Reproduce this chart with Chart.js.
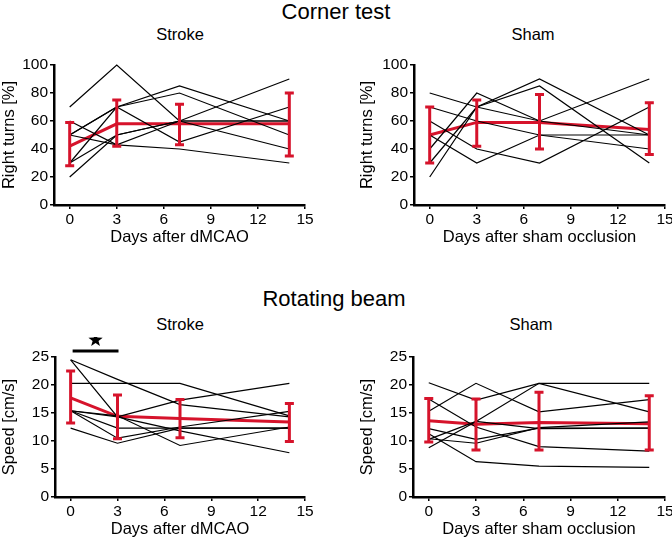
<!DOCTYPE html>
<html>
<head>
<meta charset="utf-8">
<script src="https://cdn.jsdelivr.net/npm/chart.js@4.4.1/dist/chart.umd.min.js"></script>
<style>
  html, body { margin: 0; padding: 0; background: #fff; overflow: hidden; }
  body { width: 672px; height: 541px; position: relative; font-family: "Liberation Sans", Arial, sans-serif; color: #000; }
  .t { position: absolute; transform: translate(-50%, -50%); white-space: nowrap; line-height: 1; }
  .main { font-size: 22px; }
  .sub { font-size: 16.5px; }
  canvas { position: absolute; }
</style>
</head>
<body>
<div class="t main" style="left:336px;top:12px">Corner test</div>
<div class="t sub" style="left:180px;top:34px">Stroke</div>
<div class="t sub" style="left:533px;top:34px">Sham</div>
<div class="t main" style="left:334px;top:299px">Rotating beam</div>
<div class="t sub" style="left:180px;top:324px">Stroke</div>
<div class="t sub" style="left:531px;top:324px">Sham</div>

<canvas id="cornerStroke" width="320" height="203" style="left:0;top:45px"></canvas>
<canvas id="cornerSham" width="322" height="203" style="left:358px;top:45px"></canvas>
<canvas id="beamStroke" width="320" height="203" style="left:0;top:337px"></canvas>
<canvas id="beamSham" width="322" height="203" style="left:358px;top:337px"></canvas>

<script>
// test days and axis ticks
const days = [0, 3, 7, 14];
const dayTicks = [0, 3, 6, 9, 12, 15];

// corner test, % right turns per animal (one row per animal, one value per day)
const cornerStrokeAnimals = [
  [70, 100, 60, 40],
  [50, 70, 85, 60],
  [30, 70, 80, 50],
  [60, 43, 40, 30],
  [50, 70, 45, 70],
  [20, 50, 60, 90],
  [30, 50, 60, 60],
  [50, 43, 60, 60],
];
const cornerStrokeMean = [42, 58, 58, 58];
const cornerStrokeLow = [28, 42, 43, 35];
const cornerStrokeHigh = [59, 75, 72, 80];

const cornerShamAnimals = [
  [80, 70, 60, 90],
  [70, 60, 50, 50],
  [60, 40, 30, 70],
  [50, 30, 50, 40],
  [30, 70, 90, 50],
  [20, 70, 85, 30],
  [40, 80, 60, 50],
];
const cornerShamMean = [50, 59, 59, 54];
const cornerShamLow = [30, 42, 40, 36];
const cornerShamHigh = [70, 75, 79, 73];

// rotating beam, speed in cm/s
const beamStrokeAnimals = [
  [24.5, 21.0, 16.5, 14.3],
  [24.5, 14.3, 11.8, 7.9],
  [20.3, 20.3, 20.3, 14.5],
  [15.4, 14.3, 17.3, 20.3],
  [15.4, 12.3, 12.3, 12.3],
  [15.4, 10.5, 12.5, 15.3],
  [12.3, 9.6, 12.3, 12.3],
  [15.4, 14.5, 9.2, 12.5],
];
const beamStrokeMean = [17.7, 14.4, 14.0, 13.4];
const beamStrokeLow = [13.2, 10.4, 10.6, 9.9];
const beamStrokeHigh = [22.5, 18.2, 17.4, 16.7];

const beamShamAnimals = [
  [20.4, 17.3, 20.3, 20.3],
  [15.3, 20.3, 15.2, 17.4],
  [8.8, 13.5, 20.3, 15.2],
  [17.5, 12.5, 9.0, 8.2],
  [12.2, 10.3, 12.3, 12.3],
  [10.4, 9.6, 12.4, 13.4],
  [11.3, 6.3, 5.5, 5.3],
  [10.3, 13.5, 12.2, 12.3],
];
const beamShamMean = [13.6, 13.0, 13.3, 13.1];
const beamShamLow = [9.8, 8.4, 8.4, 8.4];
const beamShamHigh = [17.6, 17.5, 18.7, 18.1];

// significance bracket: day 0 vs day 3 in the stroke beam panel
const beamStrokeSig = [0, 3];

const RED = "#d6132b";
Chart.defaults.font.family = '"Liberation Sans", Arial, sans-serif';
Chart.defaults.color = "#000";

const pts = (vals) => days.map((d, i) => ({x: d, y: vals[i]}));

function errorBarPlugin(low, high) {
  return {
    id: "errorBars",
    afterDatasetsDraw(chart) {
      const {ctx, scales: {x, y}} = chart;
      ctx.save();
      ctx.strokeStyle = RED;
      ctx.lineWidth = 3;
      ctx.lineCap = "butt";
      days.forEach((d, i) => {
        const px = x.getPixelForValue(d);
        const top = y.getPixelForValue(high[i]);
        const bot = y.getPixelForValue(low[i]);
        ctx.beginPath();
        ctx.moveTo(px, top);
        ctx.lineTo(px, bot);
        ctx.moveTo(px - 4.5, top);
        ctx.lineTo(px + 4.5, top);
        ctx.moveTo(px - 4.5, bot);
        ctx.lineTo(px + 4.5, bot);
        ctx.stroke();
      });
      ctx.restore();
    },
  };
}

function sigPlugin(range) {
  return {
    id: "sig",
    afterDraw(chart) {
      const {ctx, chartArea, scales: {x}} = chart;
      const x0 = x.getPixelForValue(range[0]) + 2;
      const x1 = x.getPixelForValue(range[1]) + 1;
      const barY = chartArea.top - 6;
      ctx.save();
      ctx.fillStyle = "#000";
      ctx.fillRect(x0, barY - 1.5, x1 - x0, 3);
      // five-point star above the bar
      const cx = (x0 + x1) / 2, cy = chartArea.top - 17, ro = 7.5, ri = 3.1;
      ctx.beginPath();
      for (let k = 0; k < 10; k++) {
        const r = k % 2 ? ri : ro;
        const a = -Math.PI / 2 + k * Math.PI / 5;
        const px = cx + r * Math.cos(a), py = cy + r * Math.sin(a);
        k ? ctx.lineTo(px, py) : ctx.moveTo(px, py);
      }
      ctx.closePath();
      ctx.fill();
      ctx.restore();
    },
  };
}

function makePanel({id, animals, mean, low, high, yMax, yStep, yTitle, xTitle, yWidth, sig}) {
  const datasets = animals.map((row) => ({
    data: pts(row),
    borderColor: "#000",
    borderWidth: 1.2,
    pointRadius: 0,
    fill: false,
    clip: false,
  }));
  datasets.push({
    data: pts(mean),
    borderColor: RED,
    borderWidth: 3,
    pointRadius: 0,
    fill: false,
    clip: false,
  });
  const axisCommon = {
    grid: {drawOnChartArea: false, drawTicks: true, tickLength: 4, color: "#000", lineWidth: 1.5},
    border: {display: true, color: "#000", width: 2.5},
  };
  const plugins = [errorBarPlugin(low, high)];
  if (sig) plugins.push(sigPlugin(sig));
  new Chart(document.getElementById(id), {
    type: "line",
    data: {datasets},
    plugins,
    options: {
      responsive: false,
      animation: false,
      devicePixelRatio: 1,
      layout: {padding: {left: 0, right: 15, top: 20, bottom: 0}},
      plugins: {legend: {display: false}, tooltip: {enabled: false}},
      scales: {
        x: {
          type: "linear",
          min: -1,
          max: 15,
          afterBuildTicks: (s) => { s.ticks = dayTicks.map((v) => ({value: v})); },
          afterFit: (s) => { s.height = 43; },
          ...axisCommon,
          ticks: {color: "#000", font: {size: 15.5}, padding: 1, maxRotation: 0, autoSkip: false},
          title: {display: true, text: xTitle, color: "#000", font: {size: 16.5}, padding: {top: 0, bottom: 1}},
        },
        y: {
          min: 0,
          max: yMax,
          afterFit: (s) => { s.width = yWidth; },
          ...axisCommon,
          ticks: {stepSize: yStep, color: "#000", font: {size: 15.5}, padding: 2},
          title: {display: true, text: yTitle, color: "#000", font: {size: 16.5}, padding: {top: 0, bottom: 0}},
        },
      },
    },
  });
}

makePanel({id: "cornerStroke", animals: cornerStrokeAnimals, mean: cornerStrokeMean, low: cornerStrokeLow, high: cornerStrokeHigh,
  yMax: 100, yStep: 20, yTitle: "Right turns [%]", xTitle: "Days after dMCAO", yWidth: 54});
makePanel({id: "cornerSham", animals: cornerShamAnimals, mean: cornerShamMean, low: cornerShamLow, high: cornerShamHigh,
  yMax: 100, yStep: 20, yTitle: "Right turns [%]", xTitle: "Days after sham occlusion", yWidth: 56});
makePanel({id: "beamStroke", animals: beamStrokeAnimals, mean: beamStrokeMean, low: beamStrokeLow, high: beamStrokeHigh,
  yMax: 25, yStep: 5, yTitle: "Speed [cm/s]", xTitle: "Days after dMCAO", yWidth: 55, sig: beamStrokeSig});
makePanel({id: "beamSham", animals: beamShamAnimals, mean: beamShamMean, low: beamShamLow, high: beamShamHigh,
  yMax: 25, yStep: 5, yTitle: "Speed [cm/s]", xTitle: "Days after sham occlusion", yWidth: 55});
</script>
</body>
</html>
